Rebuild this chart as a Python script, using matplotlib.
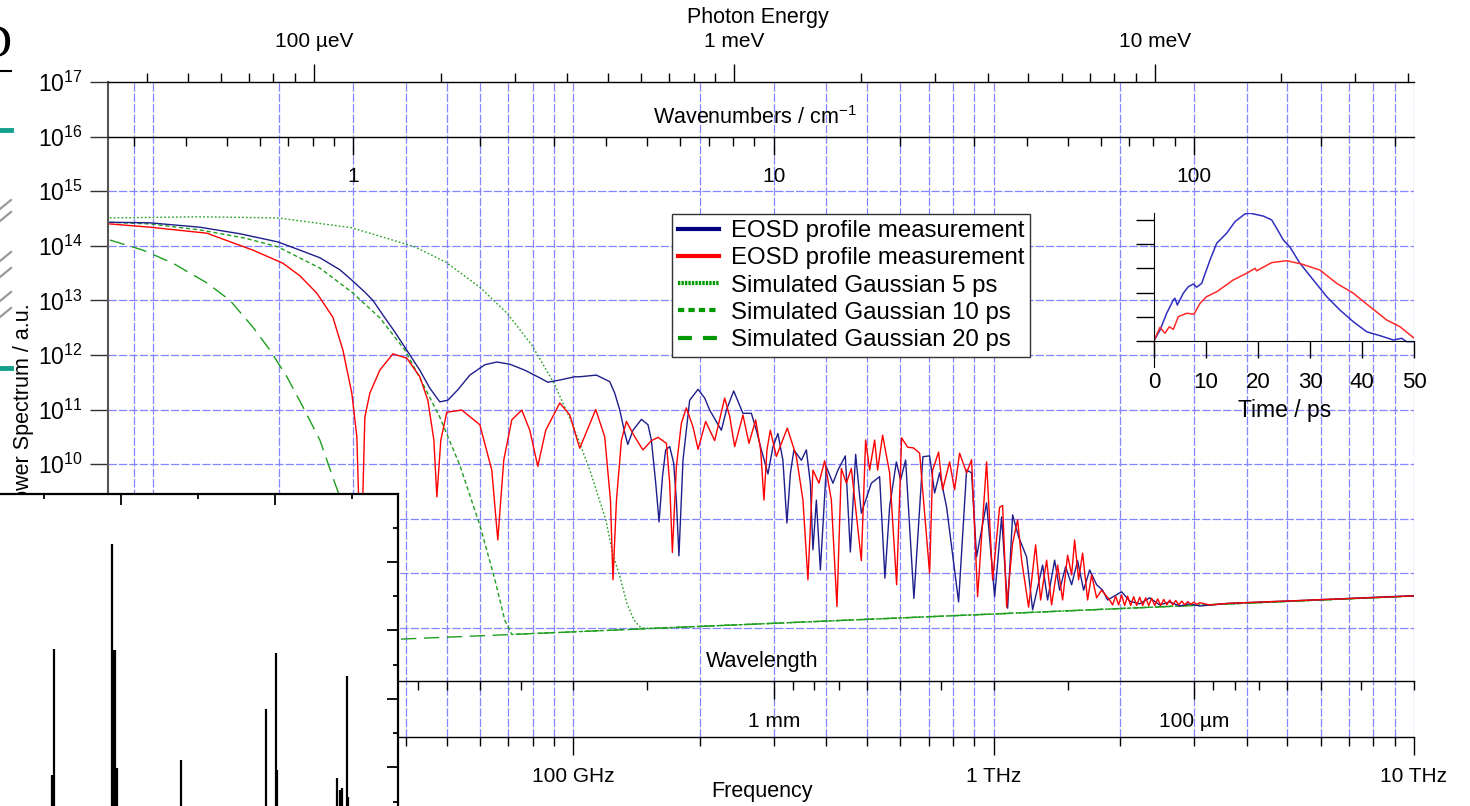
import matplotlib

matplotlib.use("Agg")
import matplotlib.pyplot as plt
import numpy as np
from matplotlib.lines import Line2D
from matplotlib.ticker import FixedLocator, FuncFormatter, NullFormatter, NullLocator

plt.rcParams["font.family"] = ["Liberation Sans", "DejaVu Sans"]
plt.rcParams["mathtext.fontset"] = "custom"
plt.rcParams["mathtext.rm"] = "Liberation Sans"
plt.rcParams["lines.scale_dashes"] = False

# EOSD power spectra: frequency in GHz, power as log10 (a.u.)
blue_ghz = [7.90, 9.84, 12.93, 16.10, 19.83, 22.37, 24.96, 27.85, 29.73, 31.93,
            33.37, 35.63, 37.64, 39.75, 43.15, 45.59, 48.14, 50.29, 53.12, 56.75,
            61.61, 65.78, 70.63, 76.69, 83.25, 86.98, 92.89, 100.8, 103.6, 113.5,
            122.1, 125.5, 129.0, 132.6, 134.8, 138.7, 145.3, 150.6, 153.4, 157.1,
            160.0, 163.0, 165.9, 169.6, 173.3, 175.9, 178.4, 182.4, 189.2, 198.1,
            205.4, 211.1, 219.0, 225.1, 231.4, 240.8, 247.8, 253.3, 265.3, 272.6,
            280.2, 290.5, 298.6, 306.8, 315.3, 322.3, 328.5, 334.9, 348.8, 358.5,
            366.4, 371.7, 378.7, 387.1, 400.0, 414.7, 426.2, 443.8, 456.2, 469.6,
            484.5, 511.8, 535.5, 551.3, 565.7, 586.9, 600.8, 617.5, 646.2, 678.8,
            704.2, 723.8, 743.9, 772.9, 825.4, 862.4, 886.2, 910.9, 962.2, 1005.5,
            1044.8, 1079.7, 1109.7, 1146.7, 1198.0, 1238.1, 1307.8, 1344.1, 1396.6, 1435.4,
            1483.3, 1532.9, 1584.1, 1637.0, 1691.7, 1757.7, 1816.6, 1867.0, 1940, 2015.7,
            2106.1, 2224.7, 2350.0, 2482.3, 2622.1, 2769.8, 2925.7, 3090.5, 3642, 5342,
            10000]
blue_log = [14.43, 14.42, 14.34, 14.22, 14.07, 13.92, 13.78, 13.56, 13.37, 13.15,
            13.00, 12.68, 12.42, 12.14, 11.72, 11.39, 11.14, 11.17, 11.36, 11.63,
            11.82, 11.87, 11.83, 11.72, 11.58, 11.50, 11.54, 11.60, 11.60, 11.63,
            11.51, 11.30, 10.99, 10.57, 10.36, 10.62, 10.82, 10.72, 10.44, 9.65,
            8.94, 9.77, 10.26, 10.32, 10.02, 9.34, 8.32, 10.07, 11.17, 11.37,
            11.21, 10.99, 10.78, 10.62, 10.99, 11.34, 11.11, 10.93, 10.93, 10.62,
            10.26, 9.82, 10.32, 10.56, 10.07, 8.92, 9.83, 10.26, 10.07, 10.26,
            9.65, 8.43, 9.34, 8.06, 9.95, 9.65, 9.89, 10.15, 8.39, 10.18,
            9.10, 9.65, 9.77, 7.91, 9.22, 10.04, 9.71, 10.075, 7.54, 10.135,
            10.15, 9.47, 9.84, 9.21, 7.475, 9.89, 9.84, 8.30, 9.29, 7.57,
            9.03, 7.36, 9.07, 8.665, 8.30, 7.33, 8.15, 7.51, 8.24, 7.69,
            8.12, 7.79, 8.23, 7.69, 8.06, 7.79, 7.69, 7.51, 7.585, 7.66,
            7.49, 7.44, 7.55, 7.42, 7.475, 7.40, 7.44, 7.40, 7.45, 7.50,
            7.59]

red_ghz = [7.90, 9.84, 13.44, 17.29, 20.38, 22.37, 24.55, 26.80, 28.31, 29.73,
           30.56, 31.24, 31.93, 32.82, 34.66, 37.23, 40.19, 43.15, 45.09, 46.60,
           47.37, 48.41, 50.02, 54.3, 59.95, 64.0, 66.14, 68.34, 71.41, 75.43,
           78.81, 82.34, 86.0, 92.89, 98.1,
           103.6, 113.1, 118.8, 122.6, 124.3, 126.7, 130.2, 133.8, 140.0, 146.5,
           153.4, 159.1, 166.6, 169.6, 172.1, 175.9, 180.8, 185.8, 192.7, 198.1,
           206.5, 217.0, 229.2, 235.6, 242.1, 253.3, 261.8, 271.6, 279.1, 284.2,
           288.9, 294.3, 304.2, 323.0, 339.4, 351.9, 361.6, 371.7, 384.1, 396.3,
           411.1, 423.9, 434.2, 446.3, 458.7, 484.5, 496.0,
           507.0, 521.1, 529.8, 544.4, 565.7, 587.8, 604.1, 624.3, 645.2, 666.7,
           704.2, 715.9, 739.8, 756.2, 785.7, 807.5, 829.9, 862.4, 886.2, 915.9,
           962.2, 994.5, 1033.4, 1050.5, 1073.8, 1109.7, 1140.5, 1165.7, 1211.2, 1258.6,
           1293.6, 1336.8, 1373.8, 1419.8, 1459.1, 1499.7, 1532.9, 1558.3, 1592.7, 1628.1,
           1673.3, 1710.3, 1757.7, 1806.6,
           1887.5, 1918.8, 1950.7, 1983.1, 2016.0, 2049.5, 2083.5, 2118.1, 2153.3, 2189.0,
           2225.4, 2262.3, 2299.9, 2338.1, 2376.9, 2416.4, 2456.5, 2497.3, 2538.7, 2580.9,
           2623.7, 2667.3, 2711.6, 2756.6, 2802.4, 2848.9, 2896.2, 2944.3, 2993.2, 3042.9,
           3093.4, 3264.5, 3642, 5342, 10000]
red_log = [14.40, 14.34, 14.23, 13.92, 13.68, 13.45, 13.13, 12.69, 12.09, 11.30,
           10.50, 8.0, 10.86, 11.30, 11.72, 12.02, 11.94, 11.60, 11.17, 10.44,
           9.40, 10.44, 10.95, 10.99, 10.72, 9.89, 8.61, 10.075, 10.81, 10.99,
           10.62, 9.96, 10.62, 11.12, 10.90,
           10.29, 11.00, 10.50, 9.34, 7.88, 9.34, 10.44, 10.78, 10.50, 10.26,
           10.43, 10.49, 10.38, 9.65, 8.38, 9.95, 10.75, 11.03, 10.68, 10.27,
           10.78, 10.43, 11.21, 10.87, 10.32, 10.90, 10.38, 10.81, 10.26, 9.34,
           10.26, 10.62, 10.14, 10.66, 10.14, 9.34, 7.88, 9.89, 9.65, 10.06,
           9.34, 7.39, 9.92, 9.65, 9.92, 8.23, 10.44,
           9.89, 10.44, 9.89, 10.53, 9.84, 7.79, 10.48, 10.31, 10.295, 10.20,
           8.00, 9.89, 10.22, 9.53, 10.04, 9.53, 10.20, 9.84, 10.08, 7.57,
           10.04, 7.88, 9.21, 9.24, 7.38, 8.55, 8.98, 8.24, 7.38, 8.52,
           7.51, 8.24, 7.42, 8.15, 7.51, 8.33, 7.97, 8.61, 7.88, 8.37,
           7.51, 7.97, 7.55, 7.69,
           7.51, 7.42, 7.58, 7.42, 7.60, 7.41, 7.58, 7.41, 7.57, 7.41,
           7.56, 7.41, 7.55, 7.41, 7.54, 7.41, 7.53, 7.41, 7.52, 7.42,
           7.51, 7.42, 7.50, 7.42, 7.49, 7.42, 7.48, 7.43, 7.47, 7.43,
           7.46, 7.42, 7.45, 7.50, 7.585]

# simulated Gaussian bunches
gauss5_ghz = [7.90, 12.93, 19.83, 29.73, 41.99, 49.75, 59.95, 69.86, 79.68, 89.88,
              99.73, 109.5, 119.5, 124.1, 129.7, 134.0, 139.3, 143.9, 147.9, 199.9,
              345.6, 597.5, 1033, 1787, 3090, 5342, 10000]
gauss5_log = [14.51, 14.53, 14.51, 14.33, 13.98, 13.70, 13.24, 12.75, 12.18, 11.49,
              10.72, 9.89, 8.98, 8.37, 7.88, 7.46, 7.15, 7.02, 6.99, 7.026,
              7.103, 7.181, 7.258, 7.337, 7.416, 7.493, 7.583]
gauss10_ghz = [7.90, 9.84, 12.93, 16.55, 19.83, 24.96, 29.73, 34.66, 39.75, 43.15,
               48.14, 53.71, 59.95, 65.06, 68.72, 71.41, 115.6, 199.9, 345.6, 597.5,
               1033, 1787, 3090, 5342, 10000]
gauss10_log = [14.43, 14.40, 14.29, 14.14, 13.98, 13.59, 13.15, 12.68, 12.09, 11.58,
               10.86, 9.98, 8.88, 7.89, 7.14, 6.88, 6.947, 7.026, 7.103, 7.181,
               7.258, 7.337, 7.416, 7.493, 7.583]
gauss20_ghz = [7.90, 9.467, 11.16, 13.44, 15.25, 17.29, 18.98, 20.83, 22.74, 24.96,
               27.10, 28.62, 30.23, 31.93, 33.73, 35.63, 38.68, 66.87, 115.6, 199.9,
               345.6, 597.5, 1033, 1787, 3090, 5342, 10000]
gauss20_log = [14.105, 13.92, 13.68, 13.32, 13.00, 12.51, 12.09, 11.60, 11.05, 10.44,
               9.65, 9.15, 8.55, 7.85, 7.10, 6.83, 6.793, 6.869, 6.947, 7.026,
               7.103, 7.181, 7.258, 7.337, 7.416, 7.493, 7.583]

# time-domain profiles (inset), time in ps, amplitude in a.u.
blue_t = [0, 1.15, 2.44, 3.71, 4.03, 4.48, 5.63, 6.59, 7.55, 8.20, 9.16, 10.76, 12.04,
          13.96, 15.56, 17.48, 18.44, 21.0, 22.61, 23.57, 24.84, 26.12, 28.04, 30.6,
          33.17, 35.73, 38.28, 40.86, 43.41, 45.97, 47.58, 48.54, 50]
blue_amp = [0, 0.44, 1.14, 1.69, 1.76, 1.48, 1.97, 2.24, 2.35, 2.22, 2.38, 3.35, 4.04,
            4.46, 4.94, 5.26, 5.29, 5.17, 5.01, 4.66, 4.18, 3.88, 3.21, 2.52,
            1.83, 1.27, 0.79, 0.37, 0.21, 0.03, 0.10, -0.04, -0.04]
red_t = [0, 1.15, 2.11, 2.94, 3.71, 4.67, 6.28, 7.68, 8.84, 10.12, 12.04, 15.23,
         17.81, 19.40, 19.73, 22.61, 25.49, 28.37, 31.89, 35.09, 38.28, 41.49,
         44.70, 47.25, 50]
red_amp = [0, 0.56, 0.31, 0.58, 0.47, 1.00, 1.14, 1.10, 1.55, 1.83, 2.03, 2.52,
           2.80, 3.00, 2.90, 3.24, 3.32, 3.18, 2.93, 2.38, 1.97, 1.41,
           0.86, 0.58, 0.10]

# stick spectrum of the pasted panel (bottom left)
stick_pos = [110.0, 113.4, 188.0, 190.2, 192.4, 194.6, 277.9, 387.9, 401.3, 403.1,
             480.1, 484.4, 486.6, 493.5, 495.2]
stick_height = [0.78, 4.47, 7.52, 4.43, 4.43, 0.98, 1.22, 2.70, 4.33, 0.93,
                0.69, 0.34, 0.40, 3.68, 0.15]

legend_labels = ["EOSD profile measurement", "EOSD profile measurement",
                 "Simulated Gaussian 5 ps", "Simulated Gaussian 10 ps",
                 "Simulated Gaussian 20 ps"]

GHZ_TO_MEV = 4.135667e-3
GHZ_PER_WN = 29.9792458
C_MM_GHZ = 299.792458

W, H = 1470, 806
NAVY = "#1e1e8c"
GREEN = "#1f9f1f"
GRID = "#8585ff"


def box(x0, y0, x1, y1):
    # pixel rectangle (origin top left) -> figure fraction
    return [x0 / W, 1 - y1 / H, (x1 - x0) / W, (y1 - y0) / H]


def decade_ticks(lo, hi):
    vals = [m * 10.0 ** d for d in range(-3, 5) for m in range(2, 10)]
    return [v for v in vals if lo <= v <= hi]


fig = plt.figure(figsize=(W / 100, H / 100), dpi=100)

ax = fig.add_axes(box(108, 82, 1414, 737))
ax.set_xscale("log")
ax.set_yscale("log")
f_lo, f_hi = 7.82, 10000
ax.set_xlim(f_lo, f_hi)
ax.set_ylim(1e5, 1e17)

# dashed blue grid
grid_kw = dict(color=GRID, lw=0.9, dashes=(6, 1.5), zorder=0.5)
for f in [9, 10] + decade_ticks(11, 9999) + [100, 1000, 10000]:
    ax.axvline(f, **grid_kw)
for e in range(7, 16):
    ax.axhline(10.0 ** e, **grid_kw)

ax.plot(gauss20_ghz, 10.0 ** np.array(gauss20_log), color=GREEN, lw=1.0, dashes=(11, 5.5), zorder=2)
ax.plot(gauss10_ghz, 10.0 ** np.array(gauss10_log), color=GREEN, lw=1.0, dashes=(3, 2), zorder=2)
ax.plot(gauss5_ghz, 10.0 ** np.array(gauss5_log), color=GREEN, lw=1.0, dashes=(1.2, 1.6), zorder=2)
ax.plot(blue_ghz, 10.0 ** np.array(blue_log), color=NAVY, lw=1.0, zorder=3)
ax.plot(red_ghz, 10.0 ** np.array(red_log), color="red", lw=1.0, zorder=4)

for s in ("top", "right"):
    ax.spines[s].set_visible(False)
ax.spines["left"].set_color("#555555")
ax.spines["left"].set_linewidth(1.5)
ax.spines["bottom"].set_linewidth(1.0)

ax.yaxis.set_major_locator(FixedLocator([10.0 ** e for e in range(5, 18)]))
ax.yaxis.set_minor_locator(NullLocator())
ax.yaxis.set_major_formatter(
    FuncFormatter(lambda v, _: r"$\mathregular{10^{%d}}$" % round(np.log10(v))))
ax.tick_params(axis="y", direction="out", length=13, width=1, color="#333333",
               labelsize=16.5, pad=5)

ax.set_xticks([10, 100, 1000, 10000], ["10 GHz", "100 GHz", "1 THz", "10 THz"])
ax.set_xticks(decade_ticks(f_lo, f_hi), minor=True)
ax.xaxis.set_minor_formatter(NullFormatter())
ax.tick_params(axis="x", which="major", direction="out", length=13, width=1, labelsize=15, pad=8.5)
ax.tick_params(axis="x", which="minor", direction="out", length=6.5, width=1)


def scale_axis(ypix, lo, hi, side, major, labels, pad):
    a = fig.add_axes([108 / W, 1 - ypix / H, 1306 / W, 1e-6])
    a.set_xscale("log")
    a.set_xlim(lo, hi)
    a.patch.set_visible(False)
    a.yaxis.set_visible(False)
    for s in a.spines.values():
        s.set_visible(False)
    a.spines[side].set_visible(True)
    a.spines[side].set_linewidth(1.0)
    a.xaxis.set_ticks_position(side)
    a.set_xticks(major, labels)
    a.set_xticks(decade_ticks(min(lo, hi), max(lo, hi)), minor=True)
    a.xaxis.set_minor_formatter(NullFormatter())
    a.tick_params(which="major", direction="out", length=13, width=1, labelsize=15, pad=pad)
    a.tick_params(which="minor", direction="out", length=6.5, width=1)
    return a


scale_axis(82, f_lo * GHZ_TO_MEV, f_hi * GHZ_TO_MEV, "top",
           [0.1, 1, 10], ["100 µeV", "1 meV", "10 meV"], 9)
scale_axis(137, f_lo / GHZ_PER_WN, f_hi / GHZ_PER_WN, "bottom",
           [1, 10, 100], ["1", "10", "100"], 8.5)
scale_axis(681, C_MM_GHZ / f_lo, C_MM_GHZ / f_hi, "bottom",
           [10, 1, 0.1], ["10 mm", "1 mm", "100 µm"], 9)

fig.text(758 / W, 1 - 18 / H, "Photon Energy", ha="center", va="center", size=15.5)
fig.text(755 / W, 1 - 118 / H, r"Wavenumbers / cm$^{\mathregular{-1}}$", ha="center", va="center", size=15.5)
fig.text(762 / W, 1 - 662 / H, "Wavelength", ha="center", va="center", size=15.5)
fig.text(762 / W, 1 - 792 / H, "Frequency", ha="center", va="center", size=15.5)
fig.text(24 / W, 1 - 409.5 / H, "Power Spectrum / a.u.", ha="center", va="center",
         rotation=90, size=15.5)

handles = [
    Line2D([], [], color="#000080", lw=3),
    Line2D([], [], color="red", lw=3),
    Line2D([], [], color="#009900", lw=3, dashes=(1.7, 0.8)),
    Line2D([], [], color="#009900", lw=3, dashes=(4.5, 3)),
    Line2D([], [], color="#009900", lw=3, dashes=(10, 8)),
]
leg = ax.legend(handles, legend_labels, loc="upper left",
                bbox_to_anchor=(672 / W, 1 - 214 / H), bbox_transform=fig.transFigure,
                fontsize=17.3, frameon=True, fancybox=False, framealpha=1,
                edgecolor="#333333", borderpad=0.25, labelspacing=0.22,
                handlelength=1.7, handletextpad=0.5, borderaxespad=0)
leg.get_frame().set_linewidth(1.0)
leg.set_zorder(6)

# time-domain inset
ins = fig.add_axes(box(1154, 212.7, 1414.3, 367))
ins.patch.set_visible(False)
ins.plot(blue_t, blue_amp, color="#3030c0", lw=1.1)
ins.plot(red_t, red_amp, color="#ff2a2a", lw=1.1)
ins.set_xlim(0, 50)
ins.set_ylim(-1.09, 5.31)
ins.spines["top"].set_visible(False)
ins.spines["right"].set_visible(False)
ins.spines["bottom"].set_position(("data", 0))
ins.set_xticks(range(0, 51, 10))
ins.set_yticks(range(0, 6))
ins.set_yticklabels([])
ins.tick_params(axis="x", direction="out", length=12.5, width=1, labelsize=16, pad=10)
ins.tick_params(axis="y", direction="out", length=13, width=1)
fig.text(1285 / W, 1 - 410 / H, "Time / ps", ha="center", va="center", size=16.5)

# pasted stick-spectrum panel covering the lower left corner
ov = fig.add_axes(box(-20, 494, 398, 819), zorder=10)
ov.set_facecolor("white")
ov.set_xlim(16.9, 559.7)
ov.set_ylim(-0.505, 8.98)
ov.vlines(stick_pos, -1, stick_height, color="black", lw=1.6)
ov.spines["left"].set_visible(False)
ov.spines["bottom"].set_visible(False)
ov.spines["top"].set_linewidth(1.6)
ov.spines["right"].set_linewidth(1.6)
ov.xaxis.set_ticks_position("top")
ov.yaxis.set_ticks_position("right")
ov.set_xticks([200, 400])
ov.set_xticks([100, 300, 500], minor=True)
ov.set_yticks([1, 3, 5, 7])
ov.set_yticks([0, 2, 4, 6, 8], minor=True)
ov.tick_params(which="both", direction="in", width=1.3, labeltop=False,
               labelright=False, labelbottom=False, labelleft=False)
ov.tick_params(which="major", length=8)
ov.tick_params(which="minor", length=3.5)

# slide remnants at the left border
fig.text(12 / W, 1 - 46 / H, "D", ha="right", va="center", size=34, family="Liberation Serif")
fig.add_artist(Line2D([0, 11 / W], [1 - 71 / H] * 2, color="black", lw=1.5))
for yy in (130, 368):
    fig.add_artist(Line2D([0, 11 / W], [1 - yy / H] * 2, color="#13a08c", lw=3.5))
for y0 in (200, 212, 252, 268, 292, 308):
    fig.add_artist(Line2D([0, 11 / W], [1 - (y0 + 9) / H, 1 - y0 / H],
                          color="#9a9a9a", lw=1.6))

fig.savefig("out.png", dpi=100)
